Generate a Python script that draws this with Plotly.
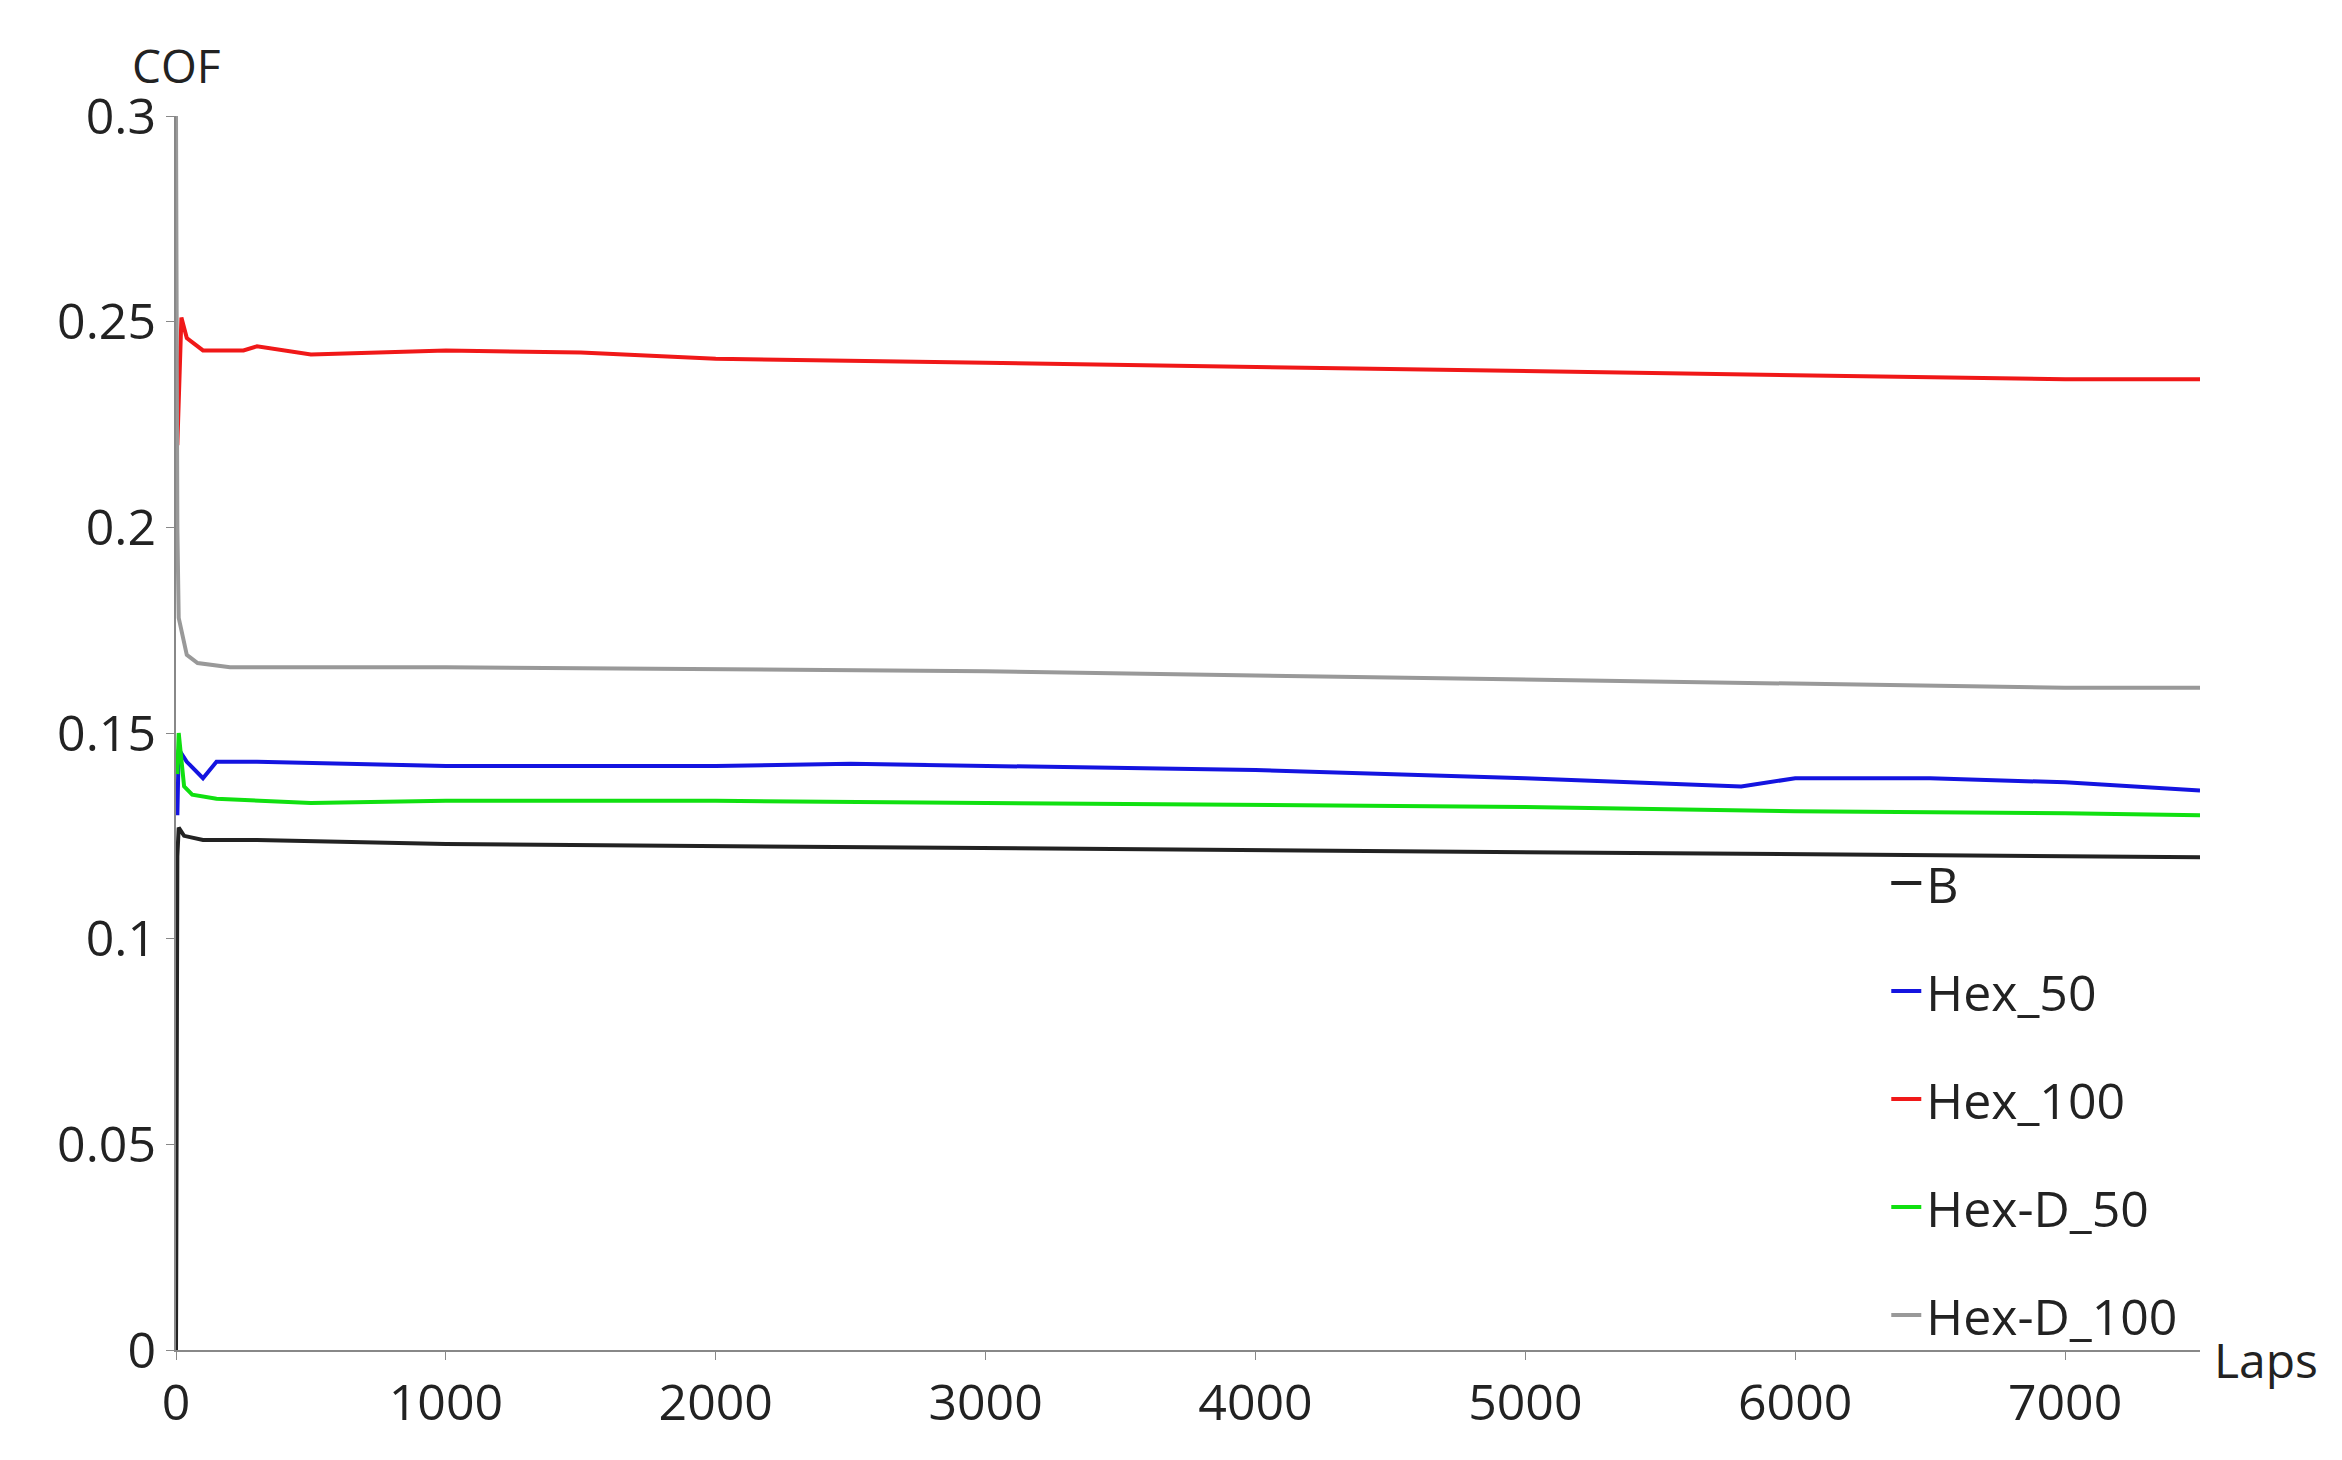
import plotly.graph_objects as go

laps_B = [0, 5, 10, 30, 100, 300, 1000, 2000, 3000, 4000, 5000, 6000, 7000, 7500]
cof_B = [0.0, 0.12, 0.127, 0.125, 0.124, 0.124, 0.123, 0.1225, 0.122, 0.1215, 0.121, 0.1205, 0.1200, 0.1198]

laps_H50 = [5, 10, 40, 70, 100, 150, 300, 1000, 2000, 2500, 3000, 4000, 5000, 5800, 6000, 6500, 7000, 7500]
cof_H50 = [0.13, 0.146, 0.143, 0.141, 0.139, 0.143, 0.143, 0.142, 0.142, 0.1425, 0.142, 0.141, 0.139, 0.137, 0.139, 0.139, 0.138, 0.136]

laps_H100 = [5, 10, 20, 40, 100, 250, 300, 500, 1000, 1500, 2000, 3000, 4000, 5000, 6000, 7000, 7500]
cof_H100 = [0.22, 0.232, 0.251, 0.246, 0.243, 0.243, 0.244, 0.242, 0.243, 0.2425, 0.241, 0.240, 0.239, 0.238, 0.2368, 0.236, 0.236]

laps_HD50 = [5, 10, 30, 60, 150, 500, 1000, 2000, 3000, 4000, 5000, 6000, 7000, 7500]
cof_HD50 = [0.14, 0.15, 0.137, 0.135, 0.134, 0.133, 0.1335, 0.1335, 0.133, 0.1325, 0.132, 0.131, 0.1305, 0.130]

laps_HD100 = [0, 5, 10, 40, 80, 200, 1000, 2000, 3000, 4000, 5000, 6000, 7000, 7500]
cof_HD100 = [0.3, 0.2, 0.178, 0.169, 0.167, 0.166, 0.166, 0.1655, 0.165, 0.164, 0.163, 0.162, 0.161, 0.161]

series = [
    ("B", laps_B, cof_B, "#222222"),
    ("Hex_50", laps_H50, cof_H50, "#1414e0"),
    ("Hex_100", laps_H100, cof_H100, "#f01818"),
    ("Hex-D_50", laps_HD50, cof_HD50, "#10e010"),
    ("Hex-D_100", laps_HD100, cof_HD100, "#999999"),
]

fig = go.Figure()
for name, x, y, c in series:
    fig.add_trace(go.Scatter(x=x, y=y, name=name, mode="lines",
                             line=dict(color=c, width=4), legendgroup=name))

font = dict(family="Open Sans, Noto Sans, sans-serif", size=34, color="#222222")
fig.update_layout(
    width=2342, height=1460, plot_bgcolor="white", paper_bgcolor="white",
    margin=dict(l=168, r=150, t=108, b=118),
    font=font, showlegend=True,
    legend=dict(x=0.845, y=0.41, xanchor="left", yanchor="top",
                traceorder="grouped", tracegroupgap=40,
                bgcolor="rgba(0,0,0,0)", font=dict(size=50)),
    xaxis=dict(range=[0, 7500], tickvals=[0, 1000, 2000, 3000, 4000, 5000, 6000, 7000],
               showline=True, linecolor="#888888", linewidth=2, showgrid=False,
               zeroline=False, ticks="outside", ticklen=8, tickcolor="#888888",
               tickfont=dict(size=50)),
    yaxis=dict(range=[0, 0.3], tickvals=[0, 0.05, 0.1, 0.15, 0.2, 0.25, 0.3],
               ticktext=["0", "0.05", "0.1", "0.15", "0.2", "0.25", "0.3"],
               showline=True, linecolor="#888888", linewidth=2, showgrid=False,
               zeroline=False, ticks="outside", ticklen=8, tickcolor="#888888",
               tickfont=dict(size=50)),
    annotations=[
        dict(text="COF", xref="paper", yref="paper", x=0, y=1.0, xanchor="center",
             yanchor="bottom", showarrow=False, font=dict(size=46), yshift=18),
        dict(text="Laps", xref="paper", yref="paper", x=1.0, y=0, xanchor="left",
             yanchor="top", showarrow=False, font=dict(size=48), xshift=12, yshift=25),
    ],
)
fig.write_html("out.html")
